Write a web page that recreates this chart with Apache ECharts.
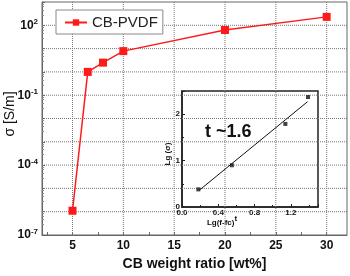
<!DOCTYPE html>
<html><head><meta charset="utf-8">
<script src="https://cdn.jsdelivr.net/npm/echarts@6/dist/echarts.min.js"></script>
<style>html,body{margin:0;padding:0;background:#fff}#c{width:350px;height:276px}</style>
</head><body><div id="c"></div>
<script>
// Main data
const cbRatio = [5, 6.5, 8, 10, 20, 30];
const sigma = [1.1e-6, 1.0, 2.5, 7.8, 63, 230];
const xTickLabels = [5, 10, 15, 20, 25, 30];
const xTickMarks = [2.5, 5, 7.5, 10, 12.5, 15, 17.5, 20, 22.5, 25, 27.5, 30];
const yTickExps = [-7, -4, -1, 2];
const yGridExps = [-6, -5, -4, -3, -2, -1, 0, 1, 2];
// Inset data
const lgF = [0.18, 0.55, 1.14, 1.39];
const lgSigma = [0.38, 0.9, 1.79, 2.37];
const fitX = [0.19, 1.385];
const fitY = [0.36, 2.27];

const FONT = 'Liberation Sans, Arial, sans-serif';
const X_MIN = 2, X_MAX = 32, Y_MIN = 1e-7, Y_MAX = 1e3;
const chart = echarts.init(document.getElementById('c'));
const gridStyle = {color: '#777777', type: 'dotted', width: 1, opacity: 1};

const gridSeries = [
  ...yGridExps.map(e => ({
    type: 'line', xAxisIndex: 0, yAxisIndex: 0, silent: true, symbol: 'none', z: 2,
    lineStyle: gridStyle, emphasis: {disabled: true},
    data: [[X_MIN, Math.pow(10, e)], [X_MAX, Math.pow(10, e)]]
  })),
  ...xTickLabels.map(v => ({
    type: 'line', xAxisIndex: 0, yAxisIndex: 0, silent: true, symbol: 'none', z: 2,
    lineStyle: gridStyle, emphasis: {disabled: true},
    data: [[v, Y_MIN], [v, Y_MAX]]
  }))
];

chart.setOption({
  animation: false,
  textStyle: {fontFamily: FONT},
  grid: [
    {left: 42, right: 3, top: 2, bottom: 33, show: true, borderColor: '#666', borderWidth: 1},
    {left: 182, top: 91, width: 136, height: 116, show: true, borderColor: '#222', borderWidth: 1.5}
  ],
  legend: {
    left: 56, top: 10, padding: [5, 5, 4, 8], itemWidth: 22, itemHeight: 8, itemGap: 2,
    backgroundColor: '#fff', borderColor: '#888', borderWidth: 1, z: 10,
    textStyle: {fontFamily: FONT, fontSize: 15, color: '#222'},
    data: ['CB-PVDF']
  },
  xAxis: [
    {
      type: 'value', gridIndex: 0, min: X_MIN, max: X_MAX,
      name: 'CB weight ratio [wt%]', nameLocation: 'middle', nameGap: 22,
      nameTextStyle: {fontFamily: FONT, fontSize: 14, fontWeight: 'bold', color: '#111'},
      axisLine: {show: true, lineStyle: {color: '#666'}},
      axisTick: {show: true, inside: true, length: 3, customValues: xTickMarks, lineStyle: {color: '#666'}},
      axisLabel: {customValues: xTickLabels, fontFamily: FONT, fontSize: 12, fontWeight: 'bold', color: '#111', margin: 5},
      splitLine: {show: false}
    },
    {
      type: 'value', gridIndex: 1, min: 0, max: 1.5, interval: 0.4,
      axisLine: {show: true, lineStyle: {color: '#222', width: 1.5}},
      axisTick: {show: true, inside: true, length: 3, lineStyle: {color: '#222'}},
      minorTick: {show: true, splitNumber: 2, length: 2, lineStyle: {color: '#222'}},
      axisLabel: {fontFamily: FONT, fontSize: 8, fontWeight: 'bold', color: '#111', margin: 2, showMaxLabel: false,
        formatter: v => v.toFixed(1)},
      splitLine: {show: false}
    }
  ],
  yAxis: [
    {
      type: 'log', gridIndex: 0, min: Y_MIN, max: Y_MAX, logBase: 10, interval: 1,
      axisLine: {show: true, lineStyle: {color: '#666'}},
      axisTick: {show: true, inside: true, length: 3, lineStyle: {color: '#666'}},
      minorTick: {show: true, splitNumber: 5, length: 2, lineStyle: {color: '#888'}},
      axisLabel: {
        fontFamily: FONT, margin: 4,
        formatter: v => {
          const e = Math.round(Math.log10(v));
          return yTickExps.includes(e) ? '{b|10}{s|' + e + '}' : '';
        },
        rich: {
          b: {fontFamily: FONT, fontSize: 12, fontWeight: 'bold', color: '#111'},
          s: {fontFamily: FONT, fontSize: 8, fontWeight: 'bold', color: '#111', padding: [0, 0, 7, 0]}
        }
      },
      splitLine: {show: false}
    },
    {
      type: 'value', gridIndex: 1, min: 0, max: 2.5, interval: 1,
      axisLine: {show: true, lineStyle: {color: '#222', width: 1.5}},
      axisTick: {show: true, inside: true, length: 3, lineStyle: {color: '#222'}},
      minorTick: {show: true, splitNumber: 2, length: 2, lineStyle: {color: '#222'}},
      axisLabel: {fontFamily: FONT, fontSize: 8, fontWeight: 'bold', color: '#111', margin: 2, showMaxLabel: false},
      splitLine: {show: false}
    }
  ],
  graphic: [
    {type: 'text', x: 10, y: 114, rotation: Math.PI / 2,
      style: {text: 'σ [S/m]', font: '14px ' + FONT, fill: '#111', align: 'center', verticalAlign: 'middle'}},
    {type: 'text', x: 205, y: 132, z: 20,
      style: {text: 't ~1.6', font: 'bold 18px ' + FONT, fill: '#111', verticalAlign: 'middle'}},
    {type: 'text', x: 168, y: 154, rotation: Math.PI / 2,
      style: {text: 'Lg (σ)', font: 'bold 8px ' + FONT, fill: '#111', align: 'center', verticalAlign: 'middle'}},
    {type: 'text', x: 222, y: 223,
      style: {text: '{a|Lg(f-fc)}{s|t}', align: 'center', verticalAlign: 'middle',
        rich: {a: {font: 'bold 8px ' + FONT, fill: '#111'}, s: {font: 'bold 8px ' + FONT, fill: '#111', padding: [0, 0, 9, 0]}}}}
  ],
  series: [
    ...gridSeries,
    {
      name: 'CB-PVDF', type: 'line', xAxisIndex: 0, yAxisIndex: 0,
      data: cbRatio.map((x, i) => [x, sigma[i]]),
      symbol: 'rect', symbolSize: 8,
      lineStyle: {color: '#ff1a1a', width: 1.5},
      itemStyle: {color: '#ff1a1a'},
      z: 3
    },
    {
      name: 'fit', type: 'line', xAxisIndex: 1, yAxisIndex: 1,
      data: fitX.map((x, i) => [x, fitY[i]]),
      symbol: 'none', lineStyle: {color: '#111', width: 1}, z: 4
    },
    {
      name: 'inset', type: 'scatter', xAxisIndex: 1, yAxisIndex: 1,
      data: lgF.map((x, i) => [x, lgSigma[i]]),
      symbol: 'rect', symbolSize: 4, itemStyle: {color: '#111'}, z: 4
    }
  ]
});
</script></body></html>
